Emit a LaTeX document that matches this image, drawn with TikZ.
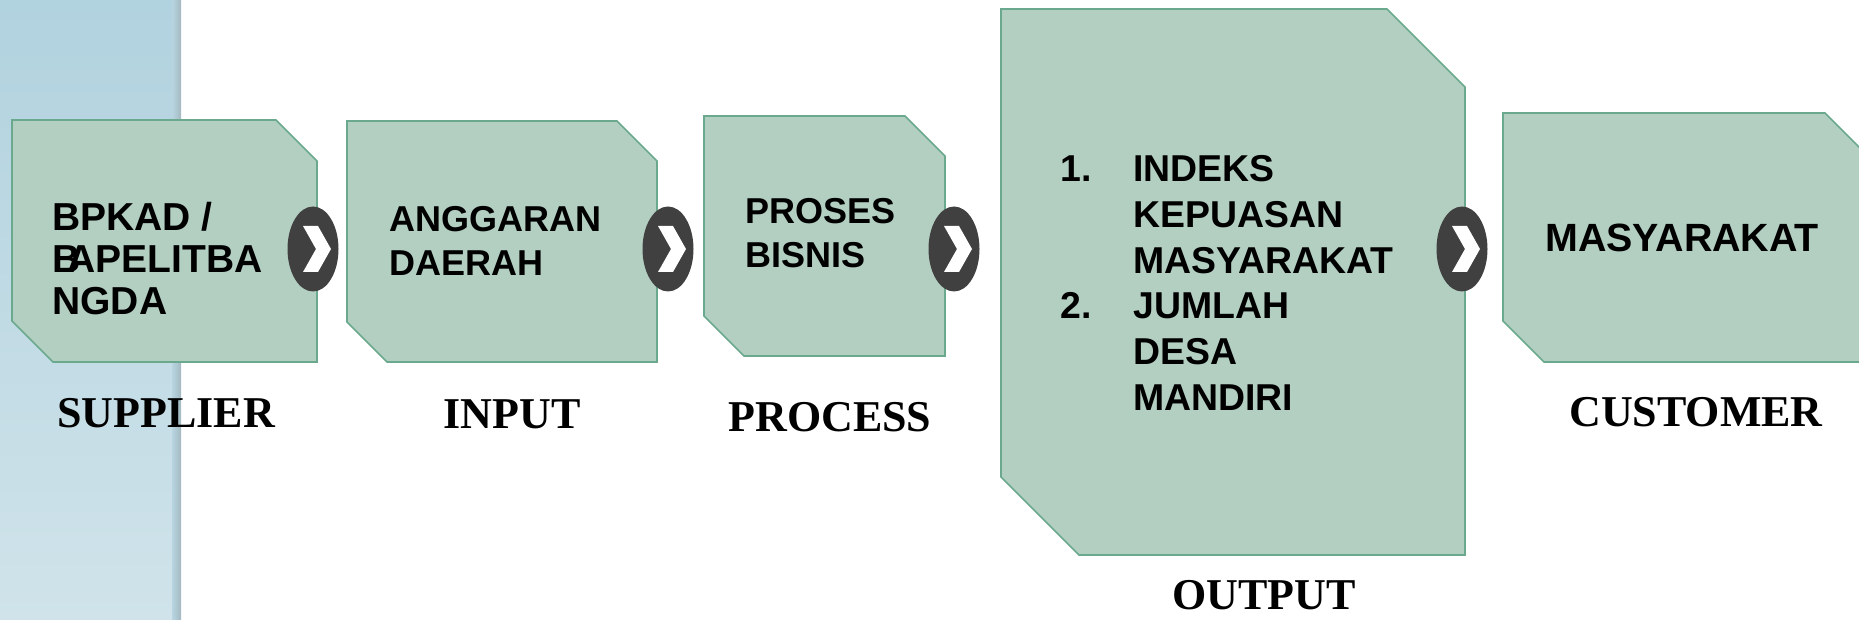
\documentclass[tikz,border=0pt]{standalone}
\usepackage{fontspec}
\setmainfont{Liberation Serif}
\newfontfamily\boxfont{Liberation Sans}
\usetikzlibrary{shapes.geometric}
\definecolor{stripTop}{HTML}{B1D2DF}
\definecolor{stripBot}{HTML}{D0E3EA}
\definecolor{stripEdge}{HTML}{A4B9C1}
\definecolor{boxFill}{HTML}{B3CFC2}
\definecolor{boxLine}{HTML}{6AA98D}
\definecolor{chevDark}{HTML}{404040}

\begin{document}
\begin{tikzpicture}[x=0.5pt, y=-0.5pt,
    blok/.style={fill=boxFill, draw=boxLine, line width=0.8pt},
    chev/.style={ellipse, fill=chevDark, minimum width=25.5pt, minimum height=42.5pt, inner sep=0pt},
    boxtext/.style={font=\boxfont\bfseries\fontsize{18}{22}\selectfont, align=left, anchor=north west, inner sep=0pt},
    sipoclabel/.style={font=\bfseries\fontsize{22}{24}\selectfont, anchor=base, inner sep=0pt}]
    \clip (0,0) rectangle (1859,620);

    % Background strip (left)
    \shade[top color=stripTop, bottom color=stripBot] (0,0) rectangle (172,620);
    \shade[left color=stripTop!80!stripBot, right color=stripEdge] (172,0) rectangle (181,620);

    % Boxes: x1/y1/x2/y2/cut
    \foreach \xa/\ya/\xb/\yb/\c in {12/120/317/362/41, 347/121/657/362/40, 704/116/945/356/40, 1001/9/1465/555/78, 1503/113/1866/362/41} {
        \draw[blok] (\xa,\ya) -- (\xb-\c,\ya) -- (\xb,\ya+\c) -- (\xb,\yb) -- (\xa+\c,\yb) -- (\xa,\yb-\c) -- cycle;
    }

    % Chevrons between the boxes
    \foreach \n/\x in {1/313, 2/668, 3/954, 4/1462} {
        \node[chev] (chev\n) at (\x,249) {};
        \fill[white] (chev\n.center) ++(-10,-23) -- ++(15,0) -- ++(13,23) -- ++(-13,23) -- ++(-15,0) -- ++(13,-23) -- cycle;
    }

    % Box texts
    \node[boxtext, font=\boxfont\bfseries\fontsize{19.5}{21}\selectfont] (suptext) at (52,202) {BPKAD /\\B\kern-.33em APELITBA\\NGDA};
    \node[boxtext] (intext) at (389,206) {ANGGARAN\\DAERAH};
    \node[boxtext] (proctext) at (745,198) {PROSES\\BISNIS};
    \node[boxtext, font=\boxfont\bfseries\fontsize{18.7}{22.9}\selectfont] (outtext) at (1060,155)
        {\makebox[36.5pt][l]{1.}INDEKS\\\hspace*{36.5pt}KEPUASAN\\\hspace*{36.5pt}MASYARAKAT\\
         \makebox[36.5pt][l]{2.}JUMLAH\\\hspace*{36.5pt}DESA\\\hspace*{36.5pt}MANDIRI};
    \node[boxtext, font=\boxfont\bfseries\fontsize{19.7}{22}\selectfont] (custtext) at (1545,224) {MASYARAKAT};

    % Labels under the boxes
    \node[sipoclabel] (suplabel) at (166,428) {SUPPLIER};
    \node[sipoclabel] (inlabel) at (512,429) {INPUT};
    \node[sipoclabel] (proclabel) at (830,431) {PROCESS};
    \node[sipoclabel] (outlabel) at (1264,609) {OUTPUT};
    \node[sipoclabel] (custlabel) at (1696,426) {CUSTOMER};
\end{tikzpicture}
\end{document}
